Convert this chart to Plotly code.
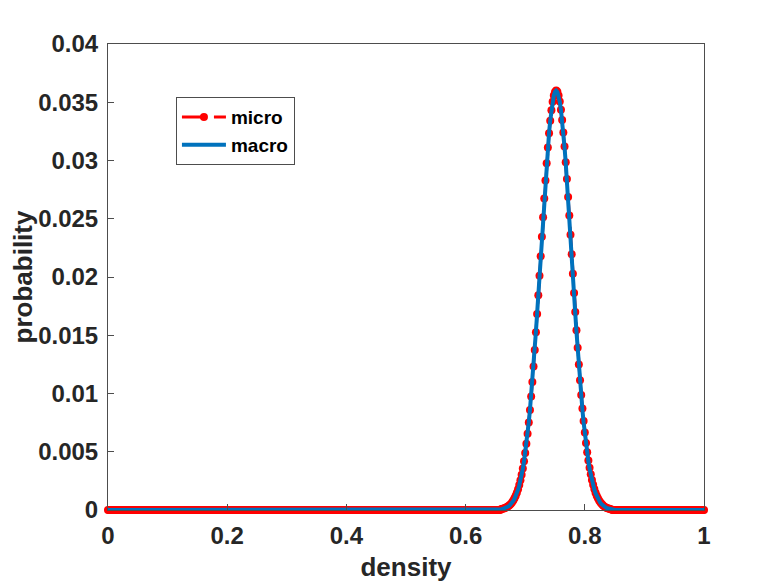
import plotly.graph_objects as go

# density grid: 0 .. 1, step 0.002 (501 points)
density = [round(i * 0.002, 3) for i in range(501)]

# probabilities for density 0.660 .. 0.844 (peak near 0.752)
micro_peak = [
    0.00008, 0.00010, 0.00013, 0.00017, 0.00021, 0.00027, 0.00034, 0.00043, 0.00053, 0.00066,
    0.00082, 0.00100, 0.00122, 0.00148, 0.00178, 0.00214, 0.00255, 0.00302, 0.00357, 0.00419,
    0.00489, 0.00568, 0.00655, 0.00752, 0.00858, 0.00974, 0.01098, 0.01232, 0.01374, 0.01525,
    0.01682, 0.01844, 0.02010, 0.02178, 0.02346, 0.02512, 0.02674, 0.02829, 0.02976, 0.03111,
    0.03233, 0.03341, 0.03432, 0.03504, 0.03557, 0.03589, 0.03601, 0.03590, 0.03559, 0.03507,
    0.03436, 0.03347, 0.03241, 0.03120, 0.02986, 0.02841, 0.02687, 0.02527, 0.02362, 0.02195,
    0.02028, 0.01862, 0.01700, 0.01543, 0.01392, 0.01249, 0.01114, 0.00988, 0.00871, 0.00764,
    0.00665, 0.00576, 0.00496, 0.00425, 0.00362, 0.00306, 0.00258, 0.00216, 0.00180, 0.00149,
    0.00122, 0.00100, 0.00081, 0.00066, 0.00053, 0.00042, 0.00033, 0.00026, 0.00020, 0.00016,
    0.00012, 0.00009, 0.00007,
]
macro_peak = [
    0.00007, 0.00009, 0.00012, 0.00015, 0.00019, 0.00025, 0.00032, 0.00040, 0.00050, 0.00063,
    0.00078, 0.00096, 0.00118, 0.00144, 0.00174, 0.00210, 0.00251, 0.00299, 0.00354, 0.00417,
    0.00487, 0.00567, 0.00655, 0.00753, 0.00860, 0.00977, 0.01102, 0.01237, 0.01380, 0.01531,
    0.01688, 0.01850, 0.02016, 0.02184, 0.02351, 0.02517, 0.02678, 0.02833, 0.02979, 0.03114,
    0.03236, 0.03343, 0.03434, 0.03505, 0.03558, 0.03589, 0.03600, 0.03589, 0.03558, 0.03505,
    0.03434, 0.03343, 0.03236, 0.03114, 0.02979, 0.02833, 0.02678, 0.02517, 0.02351, 0.02184,
    0.02016, 0.01850, 0.01688, 0.01531, 0.01380, 0.01237, 0.01102, 0.00977, 0.00860, 0.00753,
    0.00655, 0.00567, 0.00487, 0.00417, 0.00354, 0.00299, 0.00251, 0.00210, 0.00174, 0.00144,
    0.00118, 0.00096, 0.00078, 0.00063, 0.00050, 0.00040, 0.00032, 0.00025, 0.00019, 0.00015,
    0.00012, 0.00009, 0.00007,
]
# zero everywhere else
micro = [0.0] * 330 + micro_peak + [0.0] * 78
macro = [0.0] * 330 + macro_peak + [0.0] * 78

x_ticks = [0, 0.2, 0.4, 0.6, 0.8, 1]
x_ticklabels = ["0", "0.2", "0.4", "0.6", "0.8", "1"]
y_ticks = [0, 0.005, 0.01, 0.015, 0.02, 0.025, 0.03, 0.035, 0.04]
y_ticklabels = ["0", "0.005", "0.01", "0.015", "0.02", "0.025", "0.03", "0.035", "0.04"]

FONT = "Liberation Sans"
TXT = "#262626"
AX = "#4d4d4d"

fig = go.Figure()
fig.add_trace(go.Scatter(x=density, y=micro, name="micro", mode="lines+markers",
                         line=dict(color="#FF0000", width=3, dash="22px,10px"),
                         marker=dict(color="#FF0000", size=8),
                         cliponaxis=False))
fig.add_trace(go.Scatter(x=density, y=macro, name="macro", mode="lines",
                         line=dict(color="#0072BD", width=4),
                         cliponaxis=False))

axis_common = dict(showline=True, mirror=True, linecolor=AX, linewidth=1,
                   ticks="inside", ticklen=6, tickcolor=AX, showgrid=False,
                   zeroline=False,
                   tickfont=dict(family=FONT, size=24, color=TXT, weight="bold"))
fig.update_xaxes(range=[0, 1], tickvals=x_ticks, ticktext=x_ticklabels,
                 ticklabelstandoff=4,
                 title=dict(text="density", standoff=10,
                            font=dict(family=FONT, size=26, color=TXT, weight="bold")),
                 **axis_common)
fig.update_yaxes(range=[0, 0.04], tickvals=y_ticks, ticktext=y_ticklabels,
                 ticklabelstandoff=4,
                 title=dict(text="probability", standoff=4,
                            font=dict(family=FONT, size=26, color=TXT, weight="bold")),
                 **axis_common)

fig.update_layout(
    width=778, height=584,
    margin=dict(l=100, r=82, t=36, b=82, autoexpand=False),
    paper_bgcolor="white", plot_bgcolor="white",
    legend=dict(x=0.114, y=0.886, xanchor="left", yanchor="top",
                bgcolor="white", bordercolor=AX, borderwidth=1,
                font=dict(family=FONT, size=19, color="black", weight="bold"),
                itemwidth=44, tracegroupgap=0),
)

fig.write_html("out.html")
